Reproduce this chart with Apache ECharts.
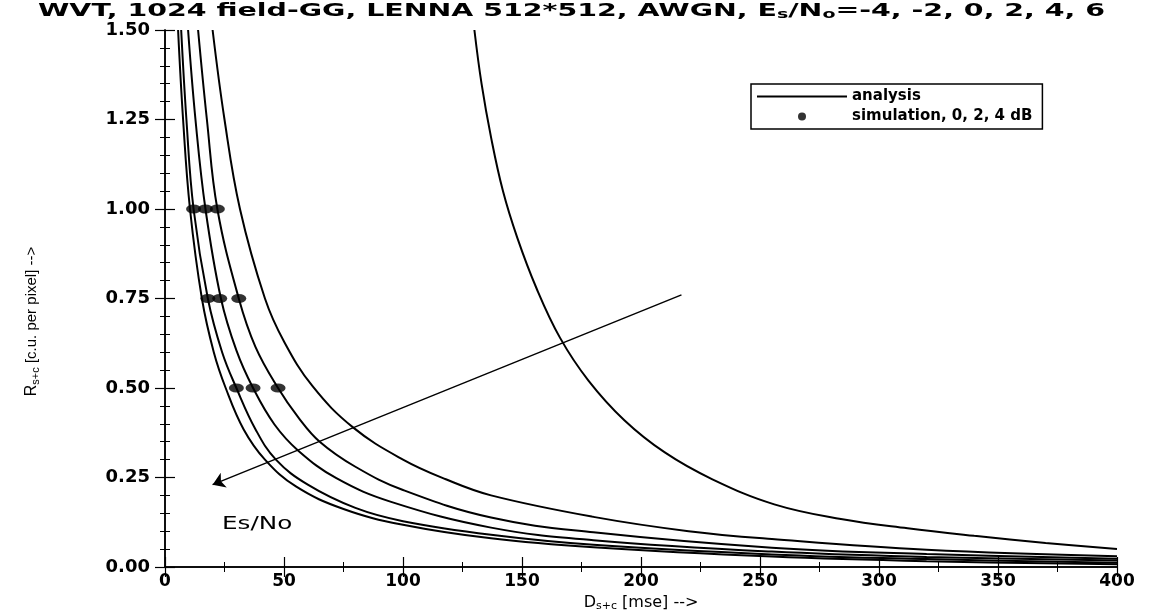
<!DOCTYPE html>
<html>
<head>
<meta charset="utf-8">
<script src="https://cdn.jsdelivr.net/npm/echarts@6/dist/echarts.min.js"></script>
<style>
  html, body { margin: 0; background: #fff; }
  #chart { width: 1156px; height: 614px; }
</style>
</head>
<body>
<div id="chart"></div>
<script>
// analysis curves, points are [D (mse), R (c.u. per pixel)]
var esNo6 = [[5.5,1.5],[7.6,1.25],[10.5,1.0],[15.5,0.75],[20.5,0.6],[25.5,0.5],[33,0.385],[42,0.3],[55,0.225],[75,0.162],[100,0.118],[137,0.08],[180,0.055],[255,0.029],[320,0.016],[400,0.008]];
var esNo4 = [[6.8,1.5],[9,1.25],[12,1.0],[18,0.75],[24,0.6],[30,0.5],[38,0.385],[46.6,0.3],[60,0.23],[80,0.165],[100,0.128],[137,0.09],[180,0.062],[255,0.035],[320,0.022],[400,0.012]];
var esNo2 = [[9.7,1.5],[12.8,1.25],[17,1.0],[23.5,0.75],[30,0.605],[37,0.5],[46,0.398],[56,0.325],[72,0.248],[95,0.182],[137,0.11],[180,0.075],[255,0.043],[320,0.028],[400,0.018]];
var esNo0 = [[13.9,1.5],[17.6,1.25],[22,1.0],[31,0.75],[38,0.615],[47.5,0.5],[56,0.418],[65,0.35],[80,0.28],[100,0.215],[137,0.138],[180,0.097],[255,0.054],[320,0.036],[400,0.023]];
var esNoM2 = [[20,1.5],[25,1.25],[31.5,1.0],[42,0.75],[50,0.63],[62,0.505],[79,0.39],[100,0.3],[118,0.245],[137,0.2],[180,0.14],[220,0.1],[255,0.078],[320,0.048],[400,0.03]];
var esNoM4 = [[130,1.5],[133,1.35],[137,1.2],[142,1.05],[148,0.92],[156,0.78],[166,0.64],[178,0.52],[193,0.41],[210,0.32],[230,0.245],[256,0.175],[284,0.134],[312,0.108],[340,0.087],[370,0.067],[400,0.05]];

// simulation points at 4, 2 and 0 dB
var simRates = [1.0, 0.75, 0.5];
var sim4dB = [12, 18, 30];
var sim2dB = [17, 23, 37];
var sim0dB = [22, 31, 47.5];

// the Es/No arrow, tail -> head
var arrowLine = [[217, 0.76], [20, 0.23]];

var font = 'DejaVu Sans';

function simPoints() {
  var pts = [];
  [sim4dB, sim2dB, sim0dB].forEach(function (col) {
    col.forEach(function (d, i) { pts.push([d, simRates[i]]); });
  });
  return pts;
}

function curve(data) {
  return {
    name: 'analysis',
    type: 'line',
    data: data,
    smooth: 0.4,
    showSymbol: false,
    symbol: 'none',
    clip: true,
    lineStyle: { color: '#000', width: 2 },
    itemStyle: { color: '#000' }
  };
}

var chart = echarts.init(document.getElementById('chart'));

var axisLine = { show: true, lineStyle: { color: '#000', width: 1.5 } };
var tick = { inside: true, length: 10, lineStyle: { color: '#000', width: 1.2 } };
var minorX = { show: true, splitNumber: 2, length: 5, lineStyle: { color: '#000' } };
var minorY = { show: true, splitNumber: 5, length: 5, lineStyle: { color: '#000' } };

chart.setOption({
  animation: false,
  backgroundColor: '#fff',
  grid: { left: 165, top: 30, width: 952, height: 537, outerBoundsMode: 'none' },
  graphic: [
    {
      type: 'text', left: 38, top: 2, scaleX: 1.58,
      style: {
        text: 'WVT, 1024 field-GG, LENNA 512*512, AWGN, {v|E}{s|s}{v|/N}{s|o}{v|=-4, -2, 0, 2, 4, 6}',
        font: 'bold 18px "DejaVu Sans"', fill: '#000',
        rich: {
          v: { font: 'bold 18px "DejaVu Sans"', fill: '#000' },
          s: { font: 'bold 12px "DejaVu Sans"', fill: '#000', padding: [8, 0, 0, 0] }
        }
      }
    },
    {
      type: 'text', left: 222, top: 516, scaleX: 1.45,
      style: { text: 'Es/No', font: '17px "DejaVu Sans"', fill: '#000' }
    }
  ],
  legend: {
    data: [
      { name: 'analysis', icon: 'path://M0,0L100,0L100,2.4L0,2.4Z' },
      { name: 'simulation, 0, 2, 4 dB', icon: 'circle' }
    ],
    orient: 'vertical',
    left: 751,
    top: 84,
    itemWidth: 90,
    itemHeight: 8,
    itemGap: 5,
    padding: [5, 10, 5, 6],
    borderColor: '#000',
    borderWidth: 1.5,
    selectedMode: false,
    textStyle: { fontFamily: font, fontSize: 15, fontWeight: 'bold', color: '#000' }
  },
  xAxis: [
    {
      type: 'value', min: 0, max: 400, interval: 50,
      name: '{r|D}{s|s+c}{r| [mse] -->}',
      nameLocation: 'middle', nameGap: 27,
      nameTextStyle: {
        rich: {
          r: { fontFamily: font, fontSize: 16, color: '#000' },
          s: { fontFamily: font, fontSize: 11, color: '#000', padding: [7, 0, 0, 0] }
        }
      },
      axisLine: axisLine, axisTick: tick, minorTick: minorX,
      splitLine: { show: false },
      axisLabel: { fontFamily: font, fontSize: 17, fontWeight: 'bold', color: '#000', margin: 6 }
    },
    {
      type: 'value', min: 0, max: 400, interval: 50, position: 'top',
      axisLine: axisLine, axisTick: tick, minorTick: minorX,
      splitLine: { show: false }, axisLabel: { show: false }
    }
  ],
  yAxis: [
    {
      type: 'value', min: 0, max: 1.5, interval: 0.25,
      name: '{r|R}{s|s+c}{e| [c.u. per pixel] -->}',
      nameLocation: 'middle', nameGap: 124, nameRotate: 90,
      nameTextStyle: {
        rich: {
          r: { fontFamily: 'Liberation Sans', fontSize: 16, color: '#000' },
          s: { fontFamily: 'Liberation Sans', fontSize: 11, color: '#000', padding: [8, 0, 0, 0] },
          e: { fontFamily: 'Liberation Sans', fontSize: 15, color: '#000', padding: [0, 46, 0, 0] }
        }
      },
      axisLine: axisLine, axisTick: tick, minorTick: minorY,
      splitLine: { show: false },
      axisLabel: {
        fontFamily: font, fontSize: 18, fontWeight: 'bold', color: '#000', margin: 15,
        formatter: function (v) { return v.toFixed(2); }
      }
    },
    {
      type: 'value', min: 0, max: 1.5, interval: 0.25, position: 'right',
      axisLine: axisLine, axisTick: tick, minorTick: minorY,
      splitLine: { show: false }, axisLabel: { show: false }
    }
  ],
  series: [
    curve(esNo6), curve(esNo4), curve(esNo2), curve(esNo0), curve(esNoM2), curve(esNoM4),
    {
      name: 'simulation, 0, 2, 4 dB',
      type: 'scatter',
      data: simPoints(),
      symbol: 'circle',
      symbolSize: [15, 9],
      itemStyle: { color: '#000' },
      z: 5
    },
    {
      type: 'lines',
      coordinateSystem: 'cartesian2d',
      data: [{ coords: arrowLine }],
      symbol: ['none', 'arrow'],
      symbolSize: 12,
      lineStyle: { color: '#000', width: 1.5, opacity: 1 },
      silent: true
    }
  ]
});
</script>
</body>
</html>
